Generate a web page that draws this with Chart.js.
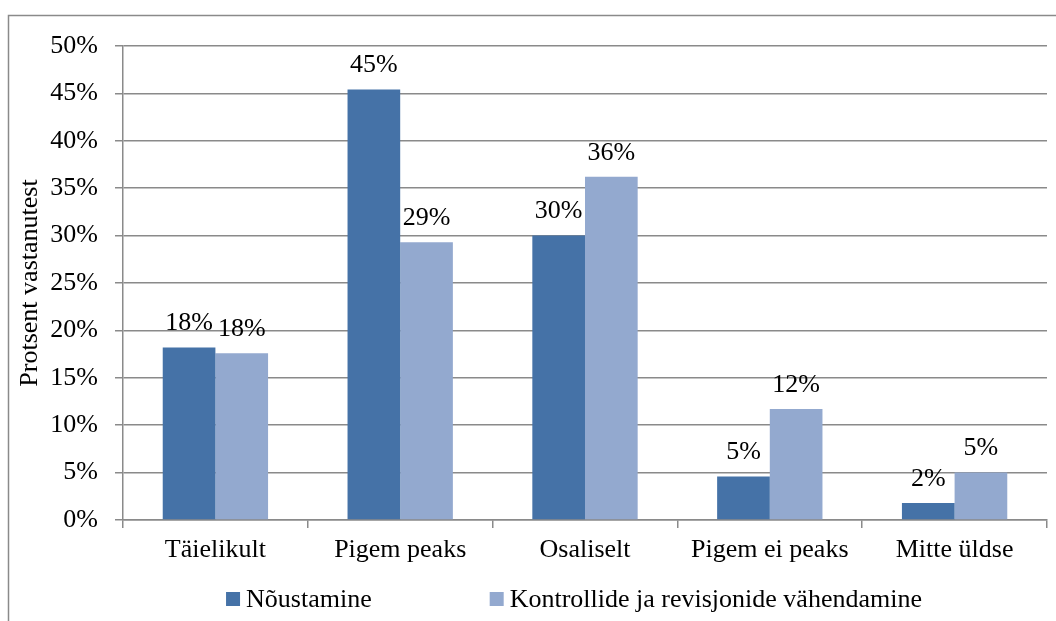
<!DOCTYPE html>
<html>
<head>
<meta charset="utf-8">
<script src="https://cdn.jsdelivr.net/npm/chart.js@4/dist/chart.umd.min.js"></script>
<style>
  html, body { margin: 0; padding: 0; background: #fff; }
  #wrap { width: 1056px; height: 621px; position: relative; }
</style>
</head>
<body>
<div id="wrap"><canvas id="myChart"></canvas></div>
<script>
// values (percent of respondents)
const categories = ["Täielikult", "Pigem peaks", "Osaliselt", "Pigem ei peaks", "Mitte üldse"];
const noustamine = [18.2, 45.4, 30.0, 4.6, 1.8];
const vahendamine = [17.6, 29.3, 36.2, 11.7, 5.0];
const seriesNames = ["Nõustamine", "Kontrollide ja revisjonide vähendamine"];
const seriesColors = ["#4572A7", "#93A9CF"];

const FONT = "'Liberation Serif', 'Times New Roman', serif";
const FSIZE = 26;
const GRID = "#8a8a8a";

// outer frame like the Excel chart border
const framePlugin = {
  id: "frame",
  beforeDraw(chart) {
    const ctx = chart.ctx;
    ctx.save();
    ctx.strokeStyle = GRID;
    ctx.lineWidth = 1.5;
    ctx.strokeRect(8.5, 15.5, chart.width + 20, chart.height + 20);
    ctx.restore();
  }
};

// percent labels above each bar
const valueLabels = {
  id: "valueLabels",
  afterDatasetsDraw(chart) {
    const ctx = chart.ctx;
    ctx.save();
    ctx.font = FSIZE + "px " + FONT;
    ctx.fillStyle = "#000";
    ctx.textAlign = "center";
    ctx.textBaseline = "bottom";
    chart.data.datasets.forEach((ds, i) => {
      chart.getDatasetMeta(i).data.forEach((bar, j) => {
        ctx.fillText(Math.round(ds.data[j]) + "%", bar.x, bar.y - 11);
      });
    });
    ctx.restore();
  }
};

// bottom legend, spaced out like the original
const bottomLegend = {
  id: "bottomLegend",
  afterDraw(chart) {
    const ctx = chart.ctx;
    const area = chart.chartArea;
    ctx.save();
    ctx.font = FSIZE + "px " + FONT;
    ctx.textBaseline = "middle";
    ctx.textAlign = "left";
    const box = 14, gapBox = 6, gapItems = 118;
    const items = chart.data.datasets.map(ds => ({
      label: ds.label, color: ds.backgroundColor,
      w: box + gapBox + ctx.measureText(ds.label).width
    }));
    const total = items.reduce((s, it) => s + it.w, 0) + gapItems * (items.length - 1);
    let x = (area.left + area.right) / 2 - 11 - total / 2;
    const y = 599;
    items.forEach(it => {
      ctx.fillStyle = it.color;
      ctx.fillRect(x, y - 7, box, box);
      ctx.fillStyle = "#000";
      ctx.fillText(it.label, x + box + gapBox, y + 1);
      x += it.w + gapItems;
    });
    ctx.restore();
  }
};

const data = {
  labels: categories,
  datasets: [
    { label: seriesNames[0], data: noustamine, backgroundColor: seriesColors[0] },
    { label: seriesNames[1], data: vahendamine, backgroundColor: seriesColors[1] }
  ]
};

const config = {
  type: "bar",
  data,
  options: {
    responsive: true,
    maintainAspectRatio: false,
    animation: false,
    layout: { padding: { top: 46, right: 9, left: 0, bottom: 0 } },
    datasets: { bar: { categoryPercentage: 0.57, barPercentage: 1.0 } },
    plugins: {
      legend: { display: false },
      tooltip: { enabled: false }
    },
    scales: {
      x: {
        afterFit: s => { s.height = 101; },
        grid: { offset: true, drawOnChartArea: false, drawTicks: true, tickLength: 8, color: GRID, lineWidth: 1.5 },
        border: { color: GRID, width: 1.5 },
        ticks: { color: "#000", padding: 7, font: { family: FONT, size: FSIZE } }
      },
      y: {
        min: 0,
        max: 50,
        afterFit: s => { s.width = 123; },
        grid: { color: GRID, lineWidth: 1.5, tickLength: 8 },
        border: { color: GRID, width: 1.5 },
        ticks: {
          stepSize: 5,
          color: "#000",
          padding: 17,
          font: { family: FONT, size: FSIZE },
          callback: v => v + "%"
        },
        title: {
          display: true,
          text: "Protsent vastanutest",
          color: "#000",
          font: { family: FONT, size: FSIZE },
          padding: { top: 15, bottom: 0 }
        }
      }
    }
  },
  plugins: [framePlugin, valueLabels, bottomLegend]
};

const myChart = new Chart(document.getElementById("myChart"), config);
</script>
</body>
</html>
